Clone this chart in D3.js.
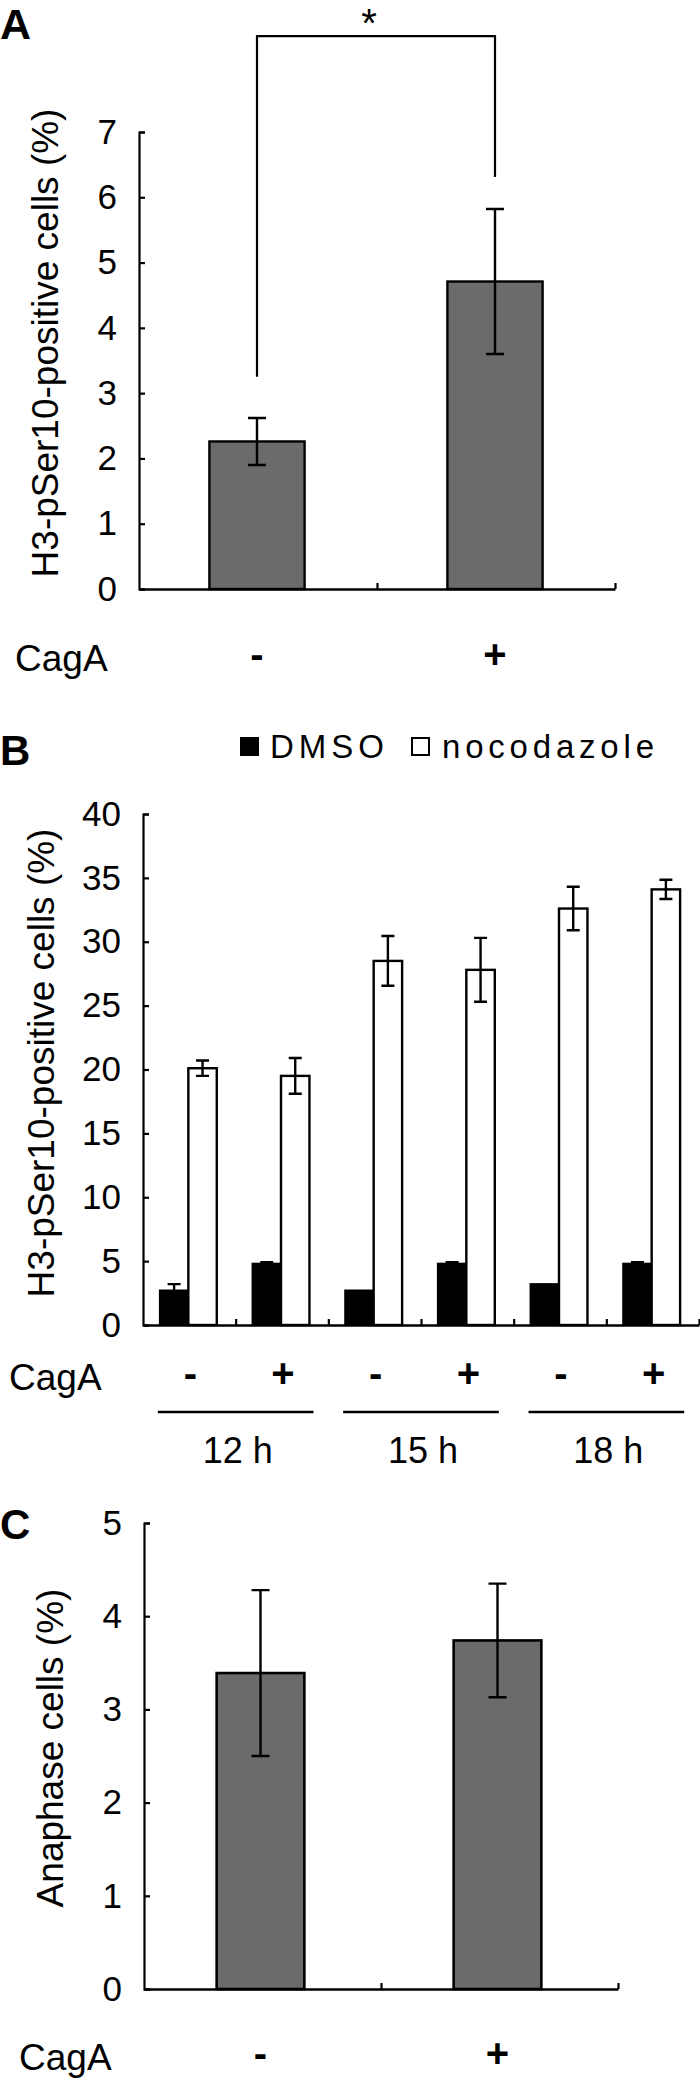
<!DOCTYPE html>
<html><head><meta charset="utf-8">
<script src="https://cdn.jsdelivr.net/npm/d3@7"></script>
<style>
html,body{margin:0;padding:0;background:#fff;}
text{font-family:"Liberation Sans",Arial,sans-serif;fill:#000;}
</style></head>
<body>
<svg id="chart" width="700" height="2081"></svg>
<script>
// ---------- DATA ----------
// Panel A
const catsA = ["-", "+"];
const valuesA = [2.26, 4.71];
const errA = [0.36, 1.11];
const ticksA = [0, 1, 2, 3, 4, 5, 6, 7];
const bracketA = {top: 8.47, leftEnd: 3.25, rightEnd: 6.31, label: "*"};

// Panel B
const groupsB = ["12 h", "15 h", "18 h"];
const cagaB = ["-", "+", "-", "+", "-", "+"];
const dmsoB = [2.7, 4.8, 2.7, 4.8, 3.2, 4.8];
const dmsoErrB = [0.5, 0.12, 0, 0.12, 0, 0.12];
const nocoB = [20.1, 19.5, 28.5, 27.8, 32.6, 34.1];
const nocoErrB = [0.6, 1.4, 1.95, 2.5, 1.7, 0.75];
const ticksB = [0, 5, 10, 15, 20, 25, 30, 35, 40];
const seriesB = ["DMSO", "nocodazole"];

// Panel C
const catsC = ["-", "+"];
const valuesC = [3.39, 3.74];
const errC = [0.89, 0.61];
const ticksC = [0, 1, 2, 3, 4, 5];

// ---------- DRAW ----------
const svg = d3.select("#chart");
const GRAY = "#6b6b6b";
const FS_TICK = 35, FS_LAB = 37, FS_SIGN = 40;

function yAxisDraw(g, y, ticks, x0) {
  const ax = g.append("g").attr("transform", `translate(${x0},0)`)
    .call(d3.axisLeft(y).tickValues(ticks).tickSizeInner(-6).tickSizeOuter(-6).tickPadding(22).tickFormat(d3.format("d")));
  ax.select(".domain").attr("stroke", "#000").attr("stroke-width", 2.2);
  ax.selectAll(".tick line").attr("stroke", "#000").attr("stroke-width", 2.2);
  ax.selectAll(".tick text").style("font-size", FS_TICK + "px").attr("fill", "#000")
    .style("font-family", '"Liberation Sans",Arial,sans-serif');
  return ax;
}
function xAxisDraw(g, x0, x1, n, yPos) {
  const lin = d3.scaleLinear().domain([0, n]).range([x0, x1]);
  const ax = g.append("g").attr("transform", `translate(0,${yPos})`)
    .call(d3.axisBottom(lin).tickValues(d3.range(1, n + 1)).tickSizeInner(-6).tickSizeOuter(0).tickFormat(""));
  ax.select(".domain").attr("stroke", "#000").attr("stroke-width", 2.4);
  ax.selectAll(".tick line").attr("stroke", "#000").attr("stroke-width", 2.2);
}
function yLabel(g, text, cx, cy) {
  g.append("text").attr("transform", `translate(${cx},${cy}) rotate(-90)`)
    .attr("text-anchor", "middle").style("font-size", FS_LAB + "px").text(text);
}
function panelLetter(g, t, x, y, fs) {
  g.append("text").attr("x", x).attr("y", y).style("font-size", fs + "px")
    .style("font-weight", "bold").text(t);
}
function errBars(g, data, xf, y, cap) {
  g.selectAll(null).data(data).enter().append("path")
    .attr("d", d => {
      const cx = xf(d), t = y(d.v + d.e), b = y(d.v - d.e);
      return `M${cx},${t}V${b}M${cx - cap / 2},${t}H${cx + cap / 2}M${cx - cap / 2},${b}H${cx + cap / 2}`;
    })
    .attr("stroke", "#000").attr("stroke-width", 2.4).attr("fill", "none");
}
function signText(sel) {
  sel.attr("text-anchor", "middle").style("font-size", FS_SIGN + "px").style("font-weight", "bold");
}

// ===== Panel A =====
{
  const g = svg.append("g");
  const y = d3.scaleLinear().domain([0, 7]).range([589, 132]);
  const x = d3.scaleBand().domain(catsA).range([139, 615]);
  const bw = x.bandwidth() * 0.4;
  const data = catsA.map((c, i) => ({c, v: valuesA[i], e: errA[i]}));
  g.selectAll(null).data(data).enter().append("rect")
    .attr("x", d => x(d.c) + x.bandwidth() / 2 - bw / 2 - 1)
    .attr("width", bw).attr("y", d => y(d.v)).attr("height", d => y(0) - y(d.v))
    .attr("fill", GRAY).attr("stroke", "#000").attr("stroke-width", 2.4);
  errBars(g, data, d => x(d.c) + x.bandwidth() / 2 - 1, y, 18);
  yAxisDraw(g, y, ticksA, 139);
  xAxisDraw(g, 139, 615, 2, 589);
  // bracket
  const lx = x(catsA[0]) + x.bandwidth() / 2 - 1, rx = x(catsA[1]) + x.bandwidth() / 2 - 1;
  g.append("path").attr("d", `M${lx},${y(bracketA.leftEnd)}V${y(bracketA.top)}H${rx}V${y(bracketA.rightEnd)}`)
    .attr("stroke", "#000").attr("stroke-width", 2.2).attr("fill", "none");
  g.append("text").attr("x", (lx + rx) / 2 - 7).attr("y", 36.5).attr("text-anchor", "middle")
    .style("font-size", "40px").text(bracketA.label);
  // category labels
  g.selectAll(null).data(catsA).enter().append("text")
    .attr("x", d => x(d) + x.bandwidth() / 2 - 1).attr("y", 668)
    .call(signText).text(d => d);
  g.append("text").attr("x", 15).attr("y", 671).style("font-size", FS_LAB + "px").text("CagA");
  yLabel(g, "H3-pSer10-positive cells (%)", 58, 343);
  panelLetter(g, "A", 0, 39, 43);
}

// ===== Panel B =====
{
  const g = svg.append("g");
  const y = d3.scaleLinear().domain([0, 40]).range([1325, 814]);
  const conds = cagaB.map((c, i) => i);
  const x = d3.scaleBand().domain(conds).range([143, 699]);
  const bw = x.bandwidth() * 0.307;
  const center = i => x(i) + x.bandwidth() / 2 - 1;
  const dm = conds.map(i => ({i, v: dmsoB[i], e: dmsoErrB[i]}));
  const nc = conds.map(i => ({i, v: nocoB[i], e: nocoErrB[i]}));
  g.selectAll(null).data(dm).enter().append("rect")
    .attr("x", d => center(d.i) - bw).attr("width", bw)
    .attr("y", d => y(d.v)).attr("height", d => y(0) - y(d.v))
    .attr("fill", "#000").attr("stroke", "#000").attr("stroke-width", 2);
  g.selectAll(null).data(nc).enter().append("rect")
    .attr("x", d => center(d.i)).attr("width", bw)
    .attr("y", d => y(d.v)).attr("height", d => y(0) - y(d.v))
    .attr("fill", "#fff").attr("stroke", "#000").attr("stroke-width", 2.4);
  errBars(g, dm.filter(d => d.e > 0), d => center(d.i) - bw / 2, y, 13);
  errBars(g, nc, d => center(d.i) + bw / 2, y, 13);
  yAxisDraw(g, y, ticksB, 143);
  xAxisDraw(g, 143, 699, 6, 1325);
  g.selectAll(null).data(conds).enter().append("text")
    .attr("x", d => center(d) + 2).attr("y", 1387)
    .call(signText).text(d => cagaB[d]);
  g.append("text").attr("x", 9).attr("y", 1390).style("font-size", FS_LAB + "px").text("CagA");
  // group lines & labels
  const gc = k => x(2 * k + 1);
  const hw = x.bandwidth() * 0.84;
  g.selectAll(null).data(groupsB).enter().append("line")
    .attr("x1", (d, k) => gc(k) - hw).attr("x2", (d, k) => gc(k) + hw)
    .attr("y1", 1412).attr("y2", 1412).attr("stroke", "#000").attr("stroke-width", 2.6);
  g.selectAll(null).data(groupsB).enter().append("text")
    .attr("x", (d, k) => gc(k) + 2).attr("y", 1463).attr("text-anchor", "middle")
    .style("font-size", "36px").text(d => d);
  // legend
  const lg = g.append("g");
  lg.append("rect").attr("x", 240).attr("y", 737).attr("width", 19).attr("height", 19).attr("fill", "#000");
  lg.append("text").attr("x", 270).attr("y", 758).style("font-size", "33px").style("letter-spacing", "5px").text(seriesB[0]);
  lg.append("rect").attr("x", 412).attr("y", 738).attr("width", 17).attr("height", 17)
    .attr("fill", "#fff").attr("stroke", "#000").attr("stroke-width", 2);
  lg.append("text").attr("x", 442).attr("y", 758).style("font-size", "33px").style("letter-spacing", "4.8px").text(seriesB[1]);
  yLabel(g, "H3-pSer10-positive cells (%)", 54, 1063);
  panelLetter(g, "B", 0, 765, 42);
}

// ===== Panel C =====
{
  const g = svg.append("g");
  const y = d3.scaleLinear().domain([0, 5]).range([1989, 1523]);
  const x = d3.scaleBand().domain(catsC).range([144, 618]);
  const bw = x.bandwidth() * 0.37;
  const center = c => x(c) + x.bandwidth() / 2 - 2;
  const data = catsC.map((c, i) => ({c, v: valuesC[i], e: errC[i]}));
  g.selectAll(null).data(data).enter().append("rect")
    .attr("x", d => center(d.c) - bw / 2).attr("width", bw)
    .attr("y", d => y(d.v)).attr("height", d => y(0) - y(d.v))
    .attr("fill", GRAY).attr("stroke", "#000").attr("stroke-width", 2.6);
  errBars(g, data, d => center(d.c), y, 18);
  yAxisDraw(g, y, ticksC, 144);
  xAxisDraw(g, 144, 618, 2, 1989);
  g.selectAll(null).data(catsC).enter().append("text")
    .attr("x", d => center(d)).attr("y", 2067)
    .call(signText).text(d => d);
  g.append("text").attr("x", 19).attr("y", 2070).style("font-size", FS_LAB + "px").text("CagA");
  yLabel(g, "Anaphase cells (%)", 63, 1748);
  panelLetter(g, "C", 0, 1539, 42);
}
</script>
</body></html>
